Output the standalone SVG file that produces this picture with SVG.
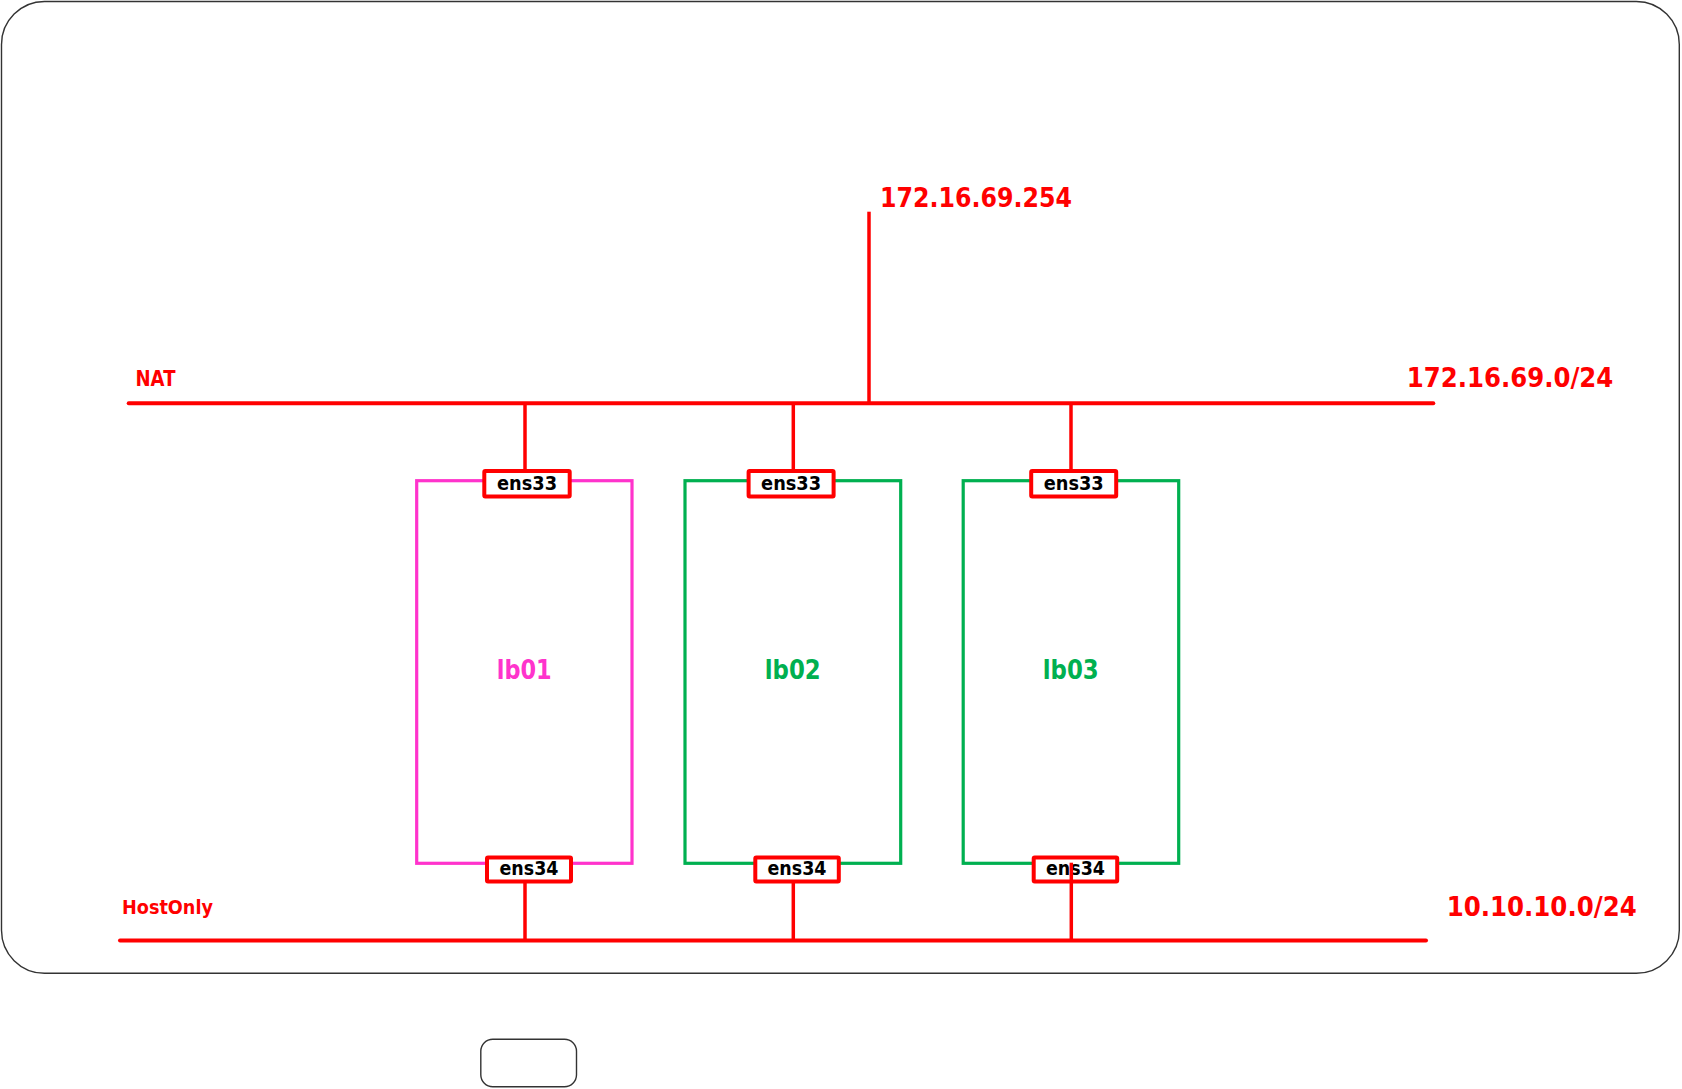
<svg xmlns="http://www.w3.org/2000/svg" width="1682" height="1089" viewBox="0 0 1682 1089">
<style>
.frame{fill:#fff;stroke:#333;stroke-width:1.4}
.net{stroke:#FF0000;stroke-width:4;stroke-linecap:round;fill:none}
.drop{stroke:#FF0000;stroke-width:3.5;stroke-linecap:butt;fill:none}
.pink{fill:none;stroke:#FF33CC;stroke-width:3.2}
.green{fill:none;stroke:#00B050;stroke-width:3.2}
.nic{fill:#fff;stroke:#FF0000;stroke-width:4}
.t{font-family:'DejaVu Sans',Verdana,sans-serif;font-weight:bold}
.red{fill:#FF0000}
.nict{fill:#000;font-size:20px}
.lbl{font-size:27px}
</style>
<rect class="frame" x="1.5" y="1.5" width="1677.8" height="971.8" rx="43" ry="43"/>
<rect class="frame" x="480.8" y="1039.3" width="95.7" height="47.4" rx="12" ry="12"/>

<g id="nat">
  <text class="t red" x="135.5" y="386" font-size="20.5" textLength="40" lengthAdjust="spacingAndGlyphs">NAT</text>
  <text class="t red" x="1406.7" y="386.7" font-size="26.7" textLength="206.6" lengthAdjust="spacingAndGlyphs">172.16.69.0/24</text>
</g>
<g id="gateway">
  <text class="t red" x="880" y="206.7" font-size="26.7" textLength="192" lengthAdjust="spacingAndGlyphs">172.16.69.254</text>
</g>
<g id="hostonly">
  <text class="t red" x="122" y="914" font-size="20" textLength="91" lengthAdjust="spacingAndGlyphs">HostOnly</text>
  <text class="t red" x="1446.7" y="916" font-size="26.7" textLength="190" lengthAdjust="spacingAndGlyphs">10.10.10.0/24</text>
</g>

<g id="lb01">
  <rect class="pink" x="416.7" y="480.7" width="215.3" height="382.6"/>
  <text class="t lbl" x="524.2" y="679" fill="#FF33CC" text-anchor="middle" textLength="55" lengthAdjust="spacingAndGlyphs">lb01</text>
  <rect class="nic" x="484.3" y="471" width="85.4" height="25.6" rx="1"/>
  <text class="t nict" x="527" y="490" text-anchor="middle" textLength="60" lengthAdjust="spacingAndGlyphs">ens33</text>
  <rect class="nic" x="487" y="857.6" width="84" height="24" rx="1"/>
  <text class="t nict" x="529" y="875" text-anchor="middle" textLength="59" lengthAdjust="spacingAndGlyphs">ens34</text>
</g>
<g id="lb02">
  <rect class="green" x="685" y="480.7" width="215.7" height="382.6"/>
  <text class="t lbl" x="792.7" y="679" fill="#00B050" text-anchor="middle" textLength="56" lengthAdjust="spacingAndGlyphs">lb02</text>
  <rect class="nic" x="748.6" y="471" width="85" height="25.6" rx="1"/>
  <text class="t nict" x="791.1" y="490" text-anchor="middle" textLength="60" lengthAdjust="spacingAndGlyphs">ens33</text>
  <rect class="nic" x="755.3" y="857.6" width="83.5" height="24" rx="1"/>
  <text class="t nict" x="797" y="875" text-anchor="middle" textLength="59" lengthAdjust="spacingAndGlyphs">ens34</text>
</g>
<g id="lb03">
  <rect class="green" x="963.2" y="480.7" width="215.5" height="382.6"/>
  <text class="t lbl" x="1070.7" y="679" fill="#00B050" text-anchor="middle" textLength="56" lengthAdjust="spacingAndGlyphs">lb03</text>
  <rect class="nic" x="1031.2" y="471" width="85" height="25.6" rx="1"/>
  <text class="t nict" x="1073.7" y="490" text-anchor="middle" textLength="60" lengthAdjust="spacingAndGlyphs">ens33</text>
  <rect class="nic" x="1033.7" y="857.6" width="83.5" height="24" rx="1"/>
  <text class="t nict" x="1075.5" y="875" text-anchor="middle" textLength="59" lengthAdjust="spacingAndGlyphs">ens34</text>
</g>

<g id="connectors">
  <line class="net" x1="128.7" y1="403.3" x2="1433.3" y2="403.3"/>
  <line class="net" x1="120" y1="940.5" x2="1426" y2="940.5"/>
  <line class="drop" x1="869" y1="211.7" x2="869" y2="403.3" stroke-linecap="round"/>
  <line class="drop" x1="525" y1="403.3" x2="525" y2="471"/>
  <line class="drop" x1="793.3" y1="403.3" x2="793.3" y2="471"/>
  <line class="drop" x1="1071" y1="403.3" x2="1071" y2="471"/>
  <line class="drop" x1="525" y1="881.6" x2="525" y2="940.5"/>
  <line class="drop" x1="793.3" y1="881.6" x2="793.3" y2="940.5"/>
  <line class="drop" x1="1071.3" y1="862.7" x2="1071.3" y2="940.5"/>
</g>
</svg>
